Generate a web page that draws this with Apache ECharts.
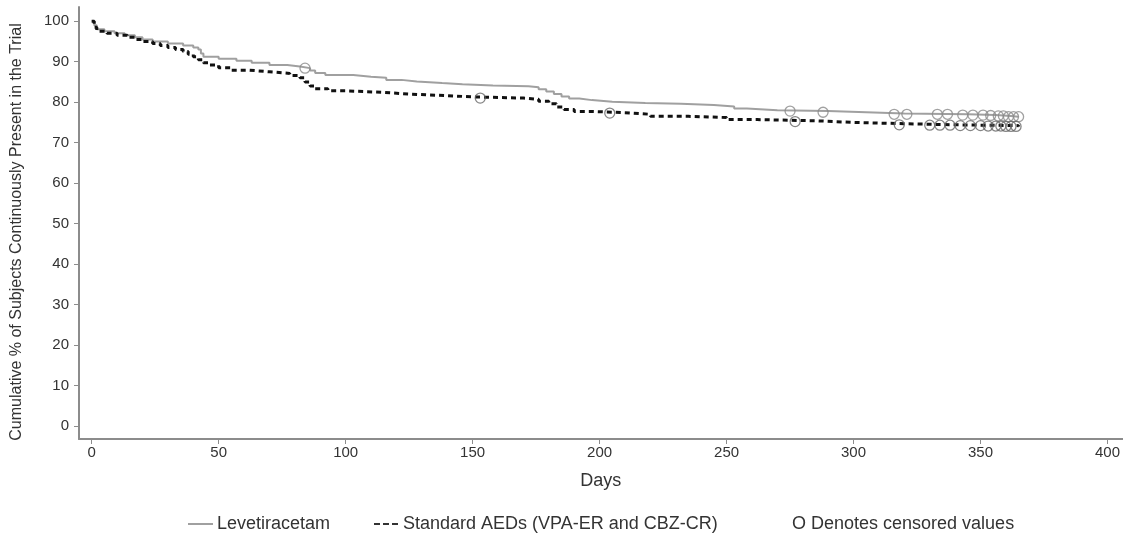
<!DOCTYPE html>
<html>
<head>
<meta charset="utf-8">
<title>Time to withdrawal</title>
<script src="https://cdn.jsdelivr.net/npm/echarts@6/dist/echarts.min.js"></script>
<style>
  html, body { margin: 0; padding: 0; background: #fff; }
  #chart { width: 1123px; height: 535px; }
</style>
</head>
<body>
<div id="chart"></div>
<script>
// Kaplan-Meier style curves (day, % still in trial)
const levDays = [0, 1, 2, 5, 9, 13, 17, 20, 24, 30, 36, 40, 42, 43, 44, 50, 57, 63, 70, 77, 82, 86, 88, 92, 103, 110, 116, 122, 128, 138, 146, 158, 172, 176, 179, 182, 185, 188, 192, 197, 205, 218, 232, 245, 253, 258, 270, 290, 305, 320, 345, 356, 362, 365]
const levPct = [100, 99, 98, 97.5, 97, 96.5, 96, 95.5, 95, 94.5, 94, 93.5, 93, 92, 91.2, 90.7, 90.2, 89.7, 89.2, 88.8, 88.4, 87.8, 87.2, 86.7, 86.3, 86.0, 85.5, 85.1, 84.7, 84.4, 84.1, 83.9, 83.7, 83.2, 82.6, 82.0, 81.4, 80.9, 80.5, 80.1, 79.8, 79.6, 79.3, 78.9, 78.4, 78.0, 77.8, 77.5, 77.2, 77.0, 76.8, 76.6, 76.4, 76.4]

const stdDays = [0, 1, 2, 6, 10, 14, 17, 20, 24, 27, 30, 33, 36, 38, 40, 42, 44, 46, 50, 55, 62, 70, 78, 82, 84, 86, 88, 93, 100, 115, 125, 140, 150, 170, 176, 180, 183, 186, 190, 197, 210, 220, 235, 250, 262, 285, 300, 318, 340, 365]
const stdPct = [100, 98.5, 97.5, 97, 96.5, 96, 95.5, 95, 94.5, 94, 93.5, 93, 92.5, 91.8, 91.2, 90.5, 89.7, 89.2, 88.5, 87.9, 87.5, 87.1, 86.6, 86, 85, 84, 83.3, 82.8, 82.4, 82.0, 81.6, 81.3, 81.0, 80.7, 80.2, 79.6, 78.8, 78.2, 77.7, 77.4, 77.0, 76.5, 76.2, 75.7, 75.4, 75.0, 74.7, 74.4, 74.2, 74.0]

// censored observations (open circles)
const levCensDays = [84, 275, 288, 316, 321, 333, 337, 343, 347, 351, 354, 357, 359, 361, 363, 365]
const levCensPct = [88.4, 77.8, 77.5, 77.0, 77.0, 77.0, 77.0, 76.8, 76.8, 76.8, 76.7, 76.6, 76.6, 76.4, 76.4, 76.4]
const stdCensDays = [153, 204, 277, 318, 330, 334, 338, 342, 346, 350, 353, 356, 358, 360, 362, 364]
const stdCensPct = [81.0, 77.3, 75.2, 74.4, 74.3, 74.3, 74.3, 74.2, 74.2, 74.2, 74.1, 74.1, 74.1, 74.0, 74.0, 74.0]

const xTicks = [0, 50, 100, 150, 200, 250, 300, 350, 400]
const yTicks = [0, 10, 20, 30, 40, 50, 60, 70, 80, 90, 100]

const zip = (a, b) => a.map((v, i) => [v, b[i]])

const font = 'Liberation Sans, Arial, sans-serif'
const axisGrey = '#8c8c8c'
const textCol = '#333'
const levCol = '#a0a0a0'
const stdCol = '#111'

const chart = echarts.init(document.getElementById('chart'))
chart.setOption({
  backgroundColor: '#ffffff',
  animation: false,
  textStyle: { fontFamily: font },
  grid: {
    left: 79,
    right: 0,
    top: 7,
    bottom: 96
  },
  xAxis: {
    type: 'value',
    min: -5,
    max: 406,
    name: 'Days',
    nameLocation: 'middle',
    nameGap: 33,
    nameTextStyle: { fontSize: 18, color: textCol, fontFamily: font },
    axisLine: { onZero: false, lineStyle: { color: axisGrey, width: 2 } },
    axisTick: { customValues: xTicks, length: 5, lineStyle: { color: axisGrey } },
    axisLabel: { customValues: xTicks, fontSize: 15, color: textCol, margin: 6 },
    splitLine: { show: false }
  },
  yAxis: {
    type: 'value',
    min: -3.2,
    max: 103.5,
    name: 'Cumulative % of Subjects Continuously Present in the Trial',
    nameLocation: 'middle',
    nameGap: 54,
    nameTextStyle: { fontSize: 16, color: textCol, fontFamily: font, padding: [0, 18, 0, 0] },
    axisLine: { show: true, onZero: false, lineStyle: { color: axisGrey, width: 2 } },
    axisTick: { show: true, customValues: yTicks, length: 5, lineStyle: { color: axisGrey } },
    axisLabel: { customValues: yTicks, fontSize: 15, color: textCol, margin: 10 },
    splitLine: { show: false }
  },
  graphic: [
    // legend drawn by hand: line sample + label
    { type: 'line', shape: { x1: 188, y1: 524, x2: 213, y2: 524 }, style: { stroke: levCol, lineWidth: 2 } },
    { type: 'text', x: 217, y: 524, style: { text: 'Levetiracetam', font: '18px Liberation Sans, Arial, sans-serif', fill: textCol, verticalAlign: 'middle' } },
    { type: 'line', shape: { x1: 374, y1: 524, x2: 398, y2: 524 }, style: { stroke: '#333', lineWidth: 2, lineDash: [6, 3] } },
    { type: 'text', x: 403, y: 524, style: { text: 'Standard AEDs (VPA-ER and CBZ-CR)', font: '18px Liberation Sans, Arial, sans-serif', fill: textCol, verticalAlign: 'middle' } },
    { type: 'text', x: 792, y: 524, style: { text: 'O Denotes censored values', font: '18px Liberation Sans, Arial, sans-serif', fill: textCol, verticalAlign: 'middle' } }
  ],
  series: [
    {
      name: 'Levetiracetam',
      type: 'line',
      step: 'end',
      symbol: 'none',
      lineStyle: { color: levCol, width: 2 },
      itemStyle: { color: levCol },
      data: zip(levDays, levPct),
      z: 2
    },
    {
      name: 'Standard AEDs (VPA-ER and CBZ-CR)',
      type: 'line',
      step: 'end',
      symbol: 'none',
      lineStyle: { color: stdCol, width: 3, type: [5, 4] },
      itemStyle: { color: stdCol },
      data: zip(stdDays, stdPct),
      z: 3
    },
    {
      name: 'Levetiracetam censored',
      type: 'scatter',
      symbol: 'circle',
      symbolSize: 10,
      itemStyle: { color: 'rgba(0,0,0,0)', borderColor: '#8a8a8a', borderWidth: 1.3 },
      data: zip(levCensDays, levCensPct),
      z: 4
    },
    {
      name: 'Standard censored',
      type: 'scatter',
      symbol: 'circle',
      symbolSize: 10,
      itemStyle: { color: 'rgba(0,0,0,0)', borderColor: '#666', borderWidth: 1.3 },
      data: zip(stdCensDays, stdCensPct),
      z: 4
    }
  ]
})
</script>
</body>
</html>
